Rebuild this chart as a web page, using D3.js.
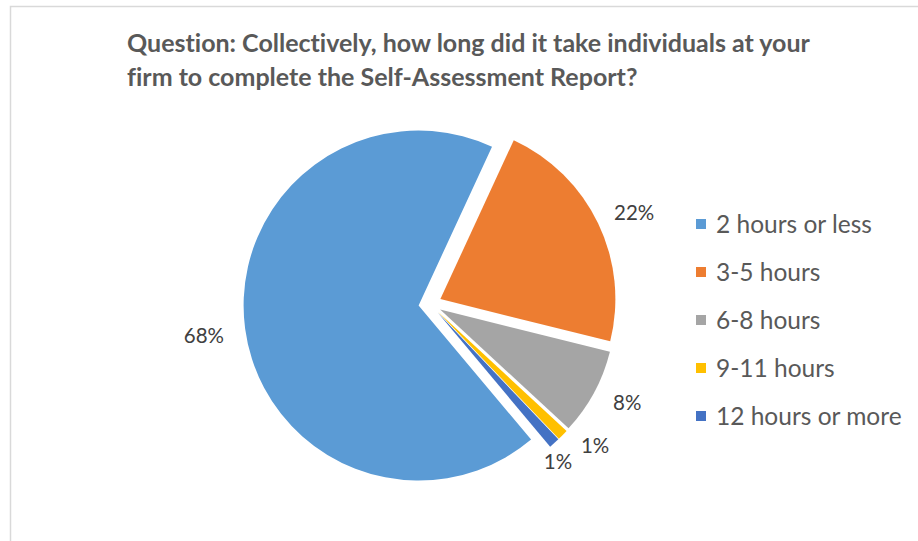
<!DOCTYPE html>
<html>
<head>
<meta charset="utf-8">
<script src="https://cdn.jsdelivr.net/npm/d3@7/dist/d3.min.js"></script>
<style>
  html, body { margin: 0; padding: 0; background: #fff; }
  svg { display: block; }
  text { font-variant-ligatures: none; }
</style>
</head>
<body>
<svg id="chart" width="918" height="541"></svg>
<script>
// Survey answers: time spent completing the Self-Assessment Report
const categories = ["2 hours or less", "3-5 hours", "6-8 hours", "9-11 hours", "12 hours or more"];
const shares = [68, 22, 8, 1, 1];
const sliceColors = ["#5B9BD5", "#ED7D31", "#A5A5A5", "#FFC000", "#4472C4"];
const titleLines = [
  "Question: Collectively, how long did it take individuals at your",
  "firm to complete the Self-Assessment Report?"
];

// Layout
const W = 918, H = 541;
const cx = 430, cy = 304;          // pie centre
const radius = 175;
const explode = 11.5;              // every slice is pulled out by this much
const labelRadius = 222;
const firstSliceAngle = 140;       // degrees, clockwise from 12 o'clock
// small label shifts so the two thin slices' labels do not collide
const labelShift = [[-6, 2], [4, 5], [2, -7], [7, -14], [-20, -8]];

const svg = d3.select("#chart");
const font = "Lato, 'Open Sans', sans-serif";

// chart-area outline (left and top edges visible)
svg.append("path")
  .attr("d", `M10.5,${H} L10.5,6.5 L${W},6.5`)
  .attr("fill", "none")
  .attr("stroke", "#d9d9d9")
  .attr("stroke-width", 1.5);

// title
const title = svg.append("text")
  .attr("font-family", font)
  .attr("font-weight", "bold")
  .attr("font-size", 25)
  .attr("fill", "#595959");
titleLines.forEach((line, i) => {
  title.append("tspan")
    .attr("x", 127)
    .attr("y", 52 + i * 34)
    .text(line);
});

// pie
const start = firstSliceAngle * Math.PI / 180;
const pie = d3.pie().sort(null).value(d => d)
  .startAngle(start).endAngle(start + 2 * Math.PI);
const arcs = pie(shares);
const arc = d3.arc().innerRadius(0).outerRadius(radius);
const mid = a => (a.startAngle + a.endAngle) / 2;

const g = svg.append("g").attr("transform", `translate(${cx},${cy})`);

g.selectAll("path.slice")
  .data(arcs)
  .join("path")
  .attr("class", "slice")
  .attr("d", arc)
  .attr("fill", (d, i) => sliceColors[i])
  .attr("transform", d => {
    const m = mid(d);
    return `translate(${explode * Math.sin(m)},${-explode * Math.cos(m)})`;
  });

// data labels
g.selectAll("text.pct")
  .data(arcs)
  .join("text")
  .attr("class", "pct")
  .attr("x", (d, i) => labelRadius * Math.sin(mid(d)) + labelShift[i][0])
  .attr("y", (d, i) => -labelRadius * Math.cos(mid(d)) + labelShift[i][1])
  .attr("dy", "0.36em")
  .attr("text-anchor", "middle")
  .attr("font-family", font)
  .attr("font-size", 20.5)
  .attr("fill", "#404040")
  .text(d => d3.format(".0f")(d.data) + "%");

// legend
const legend = svg.append("g").attr("transform", "translate(696,224)");
const rows = legend.selectAll("g")
  .data(categories)
  .join("g")
  .attr("transform", (d, i) => `translate(0,${i * 48})`);
rows.append("rect")
  .attr("x", 0).attr("y", -5)
  .attr("width", 10).attr("height", 10)
  .attr("fill", (d, i) => sliceColors[i]);
rows.append("text")
  .attr("x", 20)
  .attr("dy", "0.36em")
  .attr("font-family", font)
  .attr("font-size", 24.5)
  .attr("fill", "#595959")
  .text(d => d);
</script>
</body>
</html>
